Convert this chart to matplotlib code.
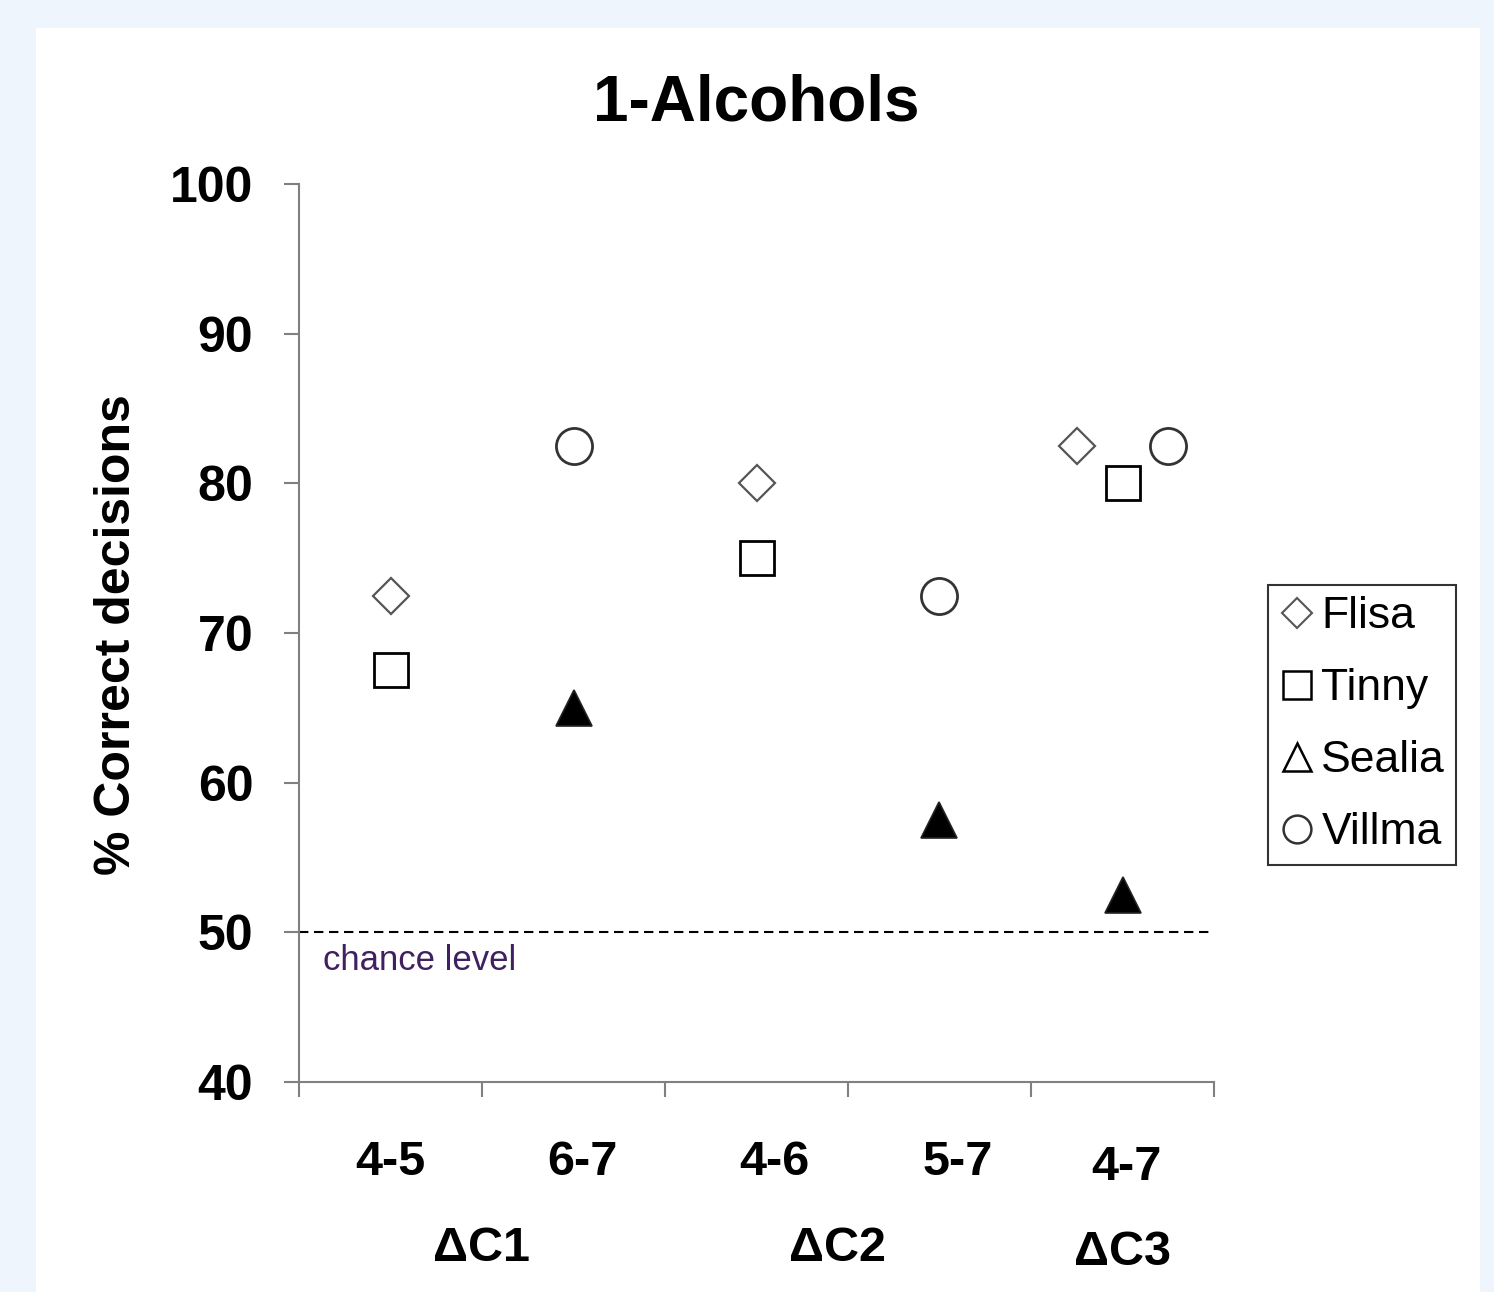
import matplotlib.pyplot as plt
import matplotlib.transforms as mtransforms
from matplotlib.lines import Line2D
from matplotlib.patches import Rectangle
import numpy as np

plt.rcParams['font.family'] = ['Liberation Sans', 'DejaVu Sans']

# data
categories = ['4-5', '6-7', '4-6', '5-7', '4-7']
groups = ['\u0394C1', '\u0394C2', '\u0394C3']
flisa = [72.5, np.nan, 80.0, np.nan, 82.5]
tinny = [67.5, np.nan, 75.0, np.nan, 80.0]
sealia = [np.nan, 65.0, np.nan, 57.5, 52.5]
villma = [np.nan, 82.5, np.nan, 72.5, 82.5]
chance = 50

# layout
x = np.arange(len(categories))
shift_flisa = np.array([0, 0, 0, 0, -0.25])
shift_villma = np.array([0, 0, 0, 0, 0.25])
cat_lab_x = [0.0, 1.05, 2.1, 3.1, 4.02]
cat_lab_y = [-0.09, -0.09, -0.09, -0.09, -0.095]
grp_lab_x = [0.495, 2.445, 4.0]
grp_lab_y = [-0.185, -0.185, -0.19]

fig = plt.figure(figsize=(14.94, 12.92), dpi=100, facecolor='#eef5fd')
fig.patches.append(Rectangle((36/1494, 0), (1480-36)/1494, 1-28/1292,
                             transform=fig.transFigure, facecolor='white',
                             edgecolor='none', zorder=-10))

ax = fig.add_axes([299/1494, 1-1082/1292, 915/1494, 898/1292])
ax.set_facecolor('white')

ax.plot(x + shift_flisa, flisa, 'D', ms=18, mfc='white', mec='#555555', mew=1.6, zorder=3)
ax.plot(x, tinny, 's', ms=24, mfc='white', mec='black', mew=2.0, zorder=3)
ax.plot(x, sealia, '^', ms=26, mfc='black', mec='#222222', mew=1.2, zorder=3)
ax.plot(x + shift_villma, villma, 'o', ms=26, mfc='white', mec='#333333', mew=2.0, zorder=3)

ax.axhline(chance, xmin=0, xmax=0.995, color='black', lw=1.5, ls=(0, (4.5, 2.7)), zorder=2)
ax.text(-0.37, chance - 0.75, 'chance level', fontsize=25, color='#402060',
        ha='left', va='top')

ax.set_xlim(-0.5, 4.5)
ax.set_ylim(40, 100)
ax.set_yticks(np.arange(40, 101, 10))
ax.set_xticks(np.arange(-0.5, 4.6, 1))
ax.set_xticklabels([])
for lbl in ax.get_yticklabels():
    lbl.set_fontweight('bold')
ax.tick_params(axis='y', labelsize=36, length=11, width=1.5, color='#808080', pad=22)
ax.tick_params(axis='x', length=11, width=1.5, color='#808080')
for s in ['top', 'right']:
    ax.spines[s].set_visible(False)
for s in ['left', 'bottom']:
    ax.spines[s].set_color('#808080')
    ax.spines[s].set_linewidth(1.5)

trans = mtransforms.blended_transform_factory(ax.transData, ax.transAxes)
for c, cx, cy in zip(categories, cat_lab_x, cat_lab_y):
    ax.text(cx, cy, c, transform=trans, ha='center', va='center',
            fontsize=35, fontweight='bold')
for g, gx, gy in zip(groups, grp_lab_x, grp_lab_y):
    ax.text(gx, gy, g, transform=trans, ha='center', va='center',
            fontsize=35, fontweight='bold')

ax.set_title('1-Alcohols', fontsize=46, fontweight='bold', pad=46)
fig.text(117/1494, 1-635/1292, '% Correct decisions', rotation=90,
         ha='center', va='center', fontsize=36, fontweight='bold')

handles = [
    Line2D([], [], ls='none', marker='D', ms=15, mfc='white', mec='#555555', mew=1.5),
    Line2D([], [], ls='none', marker='s', ms=20, mfc='white', mec='black', mew=1.8),
    Line2D([], [], ls='none', marker='^', ms=20, mfc='white', mec='black', mew=1.8),
    Line2D([], [], ls='none', marker='o', ms=20, mfc='white', mec='#333333', mew=1.8),
]
leg = fig.legend(handles, ['Flisa', 'Tinny', 'Sealia', 'Villma'],
                 loc='upper left', bbox_to_anchor=(1268/1494, 1-585/1292),
                 fontsize=32, frameon=True, fancybox=False, edgecolor='black',
                 handlelength=0.8, handletextpad=0.15, labelspacing=0.7,
                 borderpad=0.25, borderaxespad=0)
leg.get_frame().set_linewidth(1.5)

fig.savefig('out.png', dpi=100, facecolor=fig.get_facecolor())
